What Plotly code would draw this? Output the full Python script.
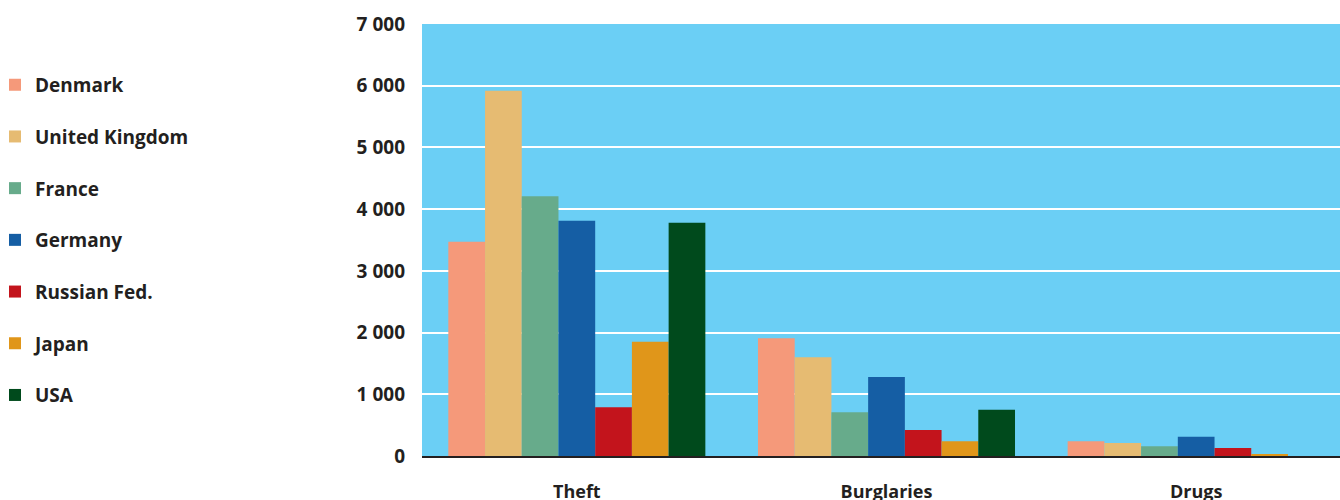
import plotly.graph_objects as go

categories = ["Theft", "Burglaries", "Drugs"]
countries = ["Denmark", "United Kingdom", "France", "Germany", "Russian Fed.", "Japan", "USA"]
denmark = [3470, 1910, 240]
united_kingdom = [5920, 1600, 210]
france = [4210, 710, 160]
germany = [3810, 1280, 310]
russia = [790, 420, 130]
japan = [1850, 240, 20]
usa = [3780, 750, 0]
series = [denmark, united_kingdom, france, germany, russia, japan, usa]
colors = ["#F5997A", "#E6BB72", "#67AB8B", "#155EA4", "#C3141C", "#E0961A", "#004A1C"]
tick_vals = [0, 1000, 2000, 3000, 4000, 5000, 6000, 7000]
tick_text = ["0", "1 000", "2 000", "3 000", "4 000", "5 000", "6 000", "7 000"]

TXT = "#231F20"
W = 1351
PW = W - 422
fig = go.Figure()
for name, vals, col in zip(countries, series, colors):
    fig.add_trace(go.Bar(x=categories, y=vals, name=name, marker=dict(color=col, line=dict(width=0)),
                         legendgroup=name))

fig.update_layout(
    width=W, height=500,
    margin=dict(l=422, r=0, t=24, b=44, autoexpand=False),
    barmode="group", bargap=0.17, bargroupgap=0,
    plot_bgcolor="#6BCFF5", paper_bgcolor="white",
    font=dict(family="Open Sans", size=17, color=TXT),
    legend=dict(x=-427 / PW, xanchor="left", y=0.903, yanchor="top",
                font=dict(family="Open Sans", size=19, color=TXT, weight="bold"),
                tracegroupgap=24, itemwidth=30, bgcolor="rgba(0,0,0,0)"),
    showlegend=True,
)
fig.update_yaxes(range=[0, 7000], tickvals=tick_vals, ticktext=tick_text,
                 showgrid=True, gridcolor="white", gridwidth=2, zeroline=False,
                 showline=False, ticks="", ticklabelstandoff=16,
                 tickfont=dict(family="Open Sans", size=19, color=TXT, weight="bold"))
fig.update_xaxes(showline=True, linecolor=TXT, linewidth=2, ticks="",
                 ticklabelstandoff=18,
                 tickfont=dict(family="Open Sans", size=18, color=TXT, weight="bold"))

fig.write_html("out.html", config={"displayModeBar": False},
               post_script="document.body.style.margin='0';document.body.style.overflow='hidden';")
